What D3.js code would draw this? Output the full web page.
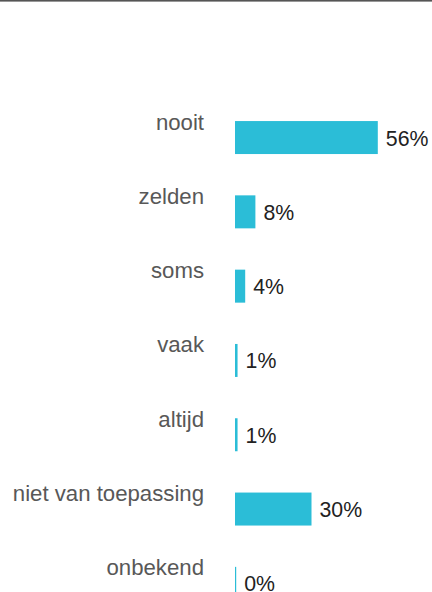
<!DOCTYPE html>
<html>
<head>
<meta charset="utf-8">
<script src="https://cdn.jsdelivr.net/npm/d3@7"></script>
<style>
  html, body { margin: 0; padding: 0; background: #fff; }
  svg { display: block; }
</style>
</head>
<body>
<script>
const categories = ['nooit', 'zelden', 'soms', 'vaak', 'altijd', 'niet van toepassing', 'onbekend'];
const values = [56, 8, 4, 1, 1, 30, 0];
const valueLabels = ['56%', '8%', '4%', '1%', '1%', '30%', '0%'];

const width = 432;
const height = 592;

const svg = d3.select('body').append('svg')
  .attr('width', width)
  .attr('height', height);

// dark rule along the top edge
svg.append('rect')
  .attr('x', 0).attr('y', 0)
  .attr('width', width).attr('height', 1.6)
  .attr('fill', '#555');

const x = d3.scaleLinear()
  .domain([0, 100])
  .range([235, 235 + 255]);

const y = d3.scaleBand()
  .domain(categories)
  .range([100.4, 100.4 + 74.3 * categories.length])
  .paddingInner(0.556)
  .paddingOuter(0.278);

const g = svg.selectAll('.row')
  .data(categories)
  .enter().append('g')
  .attr('class', 'row');

g.append('rect')
  .attr('x', x(0))
  .attr('y', d => y(d))
  .attr('width', (d, i) => Math.max(1.2, x(values[i]) - x(0)))
  .attr('height', y.bandwidth())
  .attr('fill', '#2bbdd7');

g.append('text')
  .attr('x', 204)
  .attr('y', d => y(d) + y.bandwidth() / 2 - 8)
  .attr('text-anchor', 'end')
  .attr('font-family', 'Liberation Sans, Arial, sans-serif')
  .attr('font-size', 22.2)
  .attr('fill', '#585858')
  .text(d => d);

g.append('text')
  .attr('x', (d, i) => Math.max(x(0) + 1.2, x(values[i])) + 8)
  .attr('y', d => y(d) + y.bandwidth() / 2 + 8)
  .attr('font-family', 'Liberation Sans, Arial, sans-serif')
  .attr('font-size', 21.3)
  .attr('fill', '#222')
  .text((d, i) => valueLabels[i]);
</script>
</body>
</html>
